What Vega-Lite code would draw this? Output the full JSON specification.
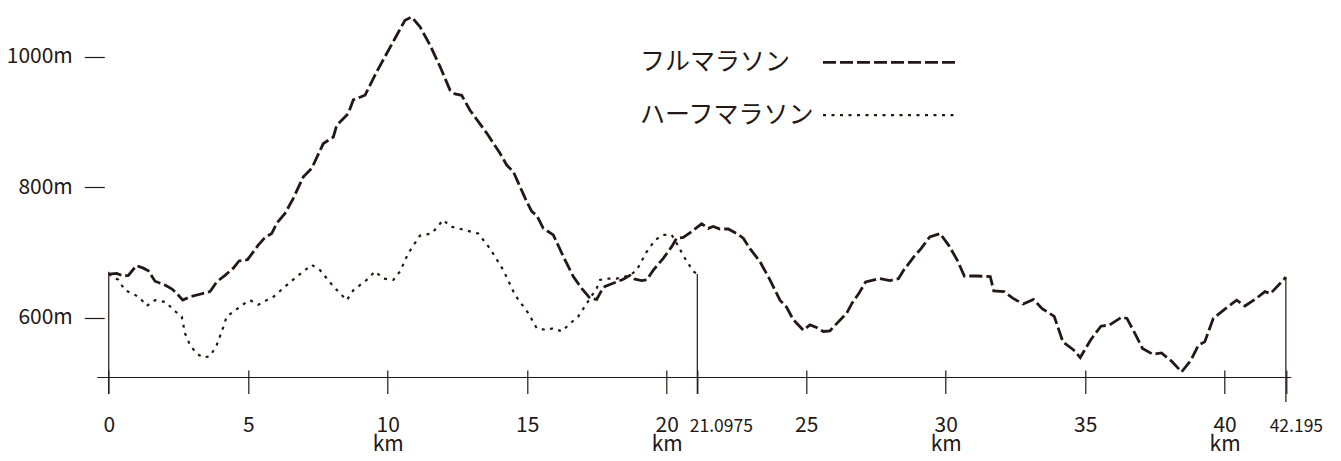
{
  "$schema": "https://vega.github.io/schema/vega-lite/v6.json",
  "autosize": "none",
  "width": 1194,
  "height": 377.5,
  "padding": {"left": 97.3, "top": 0, "right": 49.7, "bottom": 83.5},
  "background": "white",
  "config": {
    "view": {"stroke": null},
    "axis": {"grid": false, "title": null, "labelColor": "#231815", "tickColor": "#231815", "tickWidth": 1.2, "labelFont": "Noto Sans CJK JP"}
  },
  "datasets": {
    "profile": [
      {"course":"フルマラソン","km":0,"m":667},{"course":"フルマラソン","km":0.287,"m":668},{"course":"フルマラソン","km":0.523,"m":664},{"course":"フルマラソン","km":0.703,"m":665},{"course":"フルマラソン","km":0.993,"m":680},{"course":"フルマラソン","km":1.24,"m":676},{"course":"フルマラソン","km":1.419,"m":672},{"course":"フルマラソン","km":1.659,"m":656},{"course":"フルマラソン","km":2.018,"m":650},{"course":"フルマラソン","km":2.269,"m":644},{"course":"フルマラソン","km":2.448,"m":637},{"course":"フルマラソン","km":2.652,"m":627},{"course":"フルマラソン","km":2.914,"m":632},{"course":"フルマラソン","km":3.272,"m":636},{"course":"フルマラソン","km":3.631,"m":640},{"course":"フルマラソン","km":3.871,"m":655},{"course":"フルマラソン","km":4.168,"m":665},{"course":"フルマラソン","km":4.466,"m":676},{"course":"フルマラソン","km":4.67,"m":687},{"course":"フルマラソン","km":4.975,"m":689},{"course":"フルマラソン","km":5.183,"m":701},{"course":"フルマラソン","km":5.351,"m":711},{"course":"フルマラソン","km":5.602,"m":723},{"course":"フルマラソン","km":5.842,"m":729},{"course":"フルマラソン","km":6.022,"m":745},{"course":"フルマラソン","km":6.319,"m":760},{"course":"フルマラソン","km":6.616,"m":783},{"course":"フルマラソン","km":6.975,"m":816},{"course":"フルマラソン","km":7.276,"m":829},{"course":"フルマラソン","km":7.692,"m":867},{"course":"フルマラソン","km":8.05,"m":877},{"course":"フルマラソン","km":8.172,"m":895},{"course":"フルマラソン","km":8.588,"m":913},{"course":"フルマラソン","km":8.767,"m":934},{"course":"フルマラソン","km":9.186,"m":941},{"course":"フルマラソン","km":9.606,"m":977},{"course":"フルマラソン","km":9.964,"m":1005},{"course":"フルマラソン","km":10.323,"m":1033},{"course":"フルマラソン","km":10.62,"m":1056},{"course":"フルマラソン","km":10.86,"m":1061},{"course":"フルマラソン","km":11.158,"m":1046},{"course":"フルマラソン","km":11.516,"m":1018},{"course":"フルマラソン","km":11.875,"m":985},{"course":"フルマラソン","km":12.233,"m":949},{"course":"フルマラソン","km":12.412,"m":943},{"course":"フルマラソン","km":12.652,"m":941},{"course":"フルマラソン","km":12.95,"m":918},{"course":"フルマラソン","km":13.548,"m":883},{"course":"フルマラソン","km":14.025,"m":852},{"course":"フルマラソン","km":14.265,"m":834},{"course":"フルマラソン","km":14.502,"m":824},{"course":"フルマラソン","km":14.742,"m":801},{"course":"フルマラソン","km":14.982,"m":778},{"course":"フルマラソン","km":15.161,"m":763},{"course":"フルマラソン","km":15.341,"m":757},{"course":"フルマラソン","km":15.577,"m":737},{"course":"フルマラソン","km":15.935,"m":727},{"course":"フルマラソン","km":16.294,"m":694},{"course":"フルマラソン","km":16.652,"m":663},{"course":"フルマラソン","km":16.953,"m":645},{"course":"フルマラソン","km":17.251,"m":630},{"course":"フルマラソン","km":17.491,"m":628},{"course":"フルマラソン","km":17.67,"m":642},{"course":"フルマラソン","km":17.789,"m":648},{"course":"フルマラソン","km":18.208,"m":655},{"course":"フルマラソン","km":18.444,"m":659},{"course":"フルマラソン","km":18.685,"m":665},{"course":"フルマラソン","km":18.864,"m":659},{"course":"フルマラソン","km":19.104,"m":657},{"course":"フルマラソン","km":19.283,"m":658},{"course":"フルマラソン","km":19.52,"m":673},{"course":"フルマラソン","km":19.878,"m":691},{"course":"フルマラソン","km":20.179,"m":709},{"course":"フルマラソン","km":20.358,"m":722},{"course":"フルマラソン","km":20.595,"m":723},{"course":"フルマラソン","km":20.896,"m":732},{"course":"フルマラソン","km":21.254,"m":744},{"course":"フルマラソン","km":21.491,"m":737},{"course":"フルマラソン","km":21.67,"m":740},{"course":"フルマラソン","km":21.91,"m":736},{"course":"フルマラソン","km":22.208,"m":736},{"course":"フルマラソン","km":22.509,"m":729},{"course":"フルマラソン","km":22.746,"m":722},{"course":"フルマラソン","km":22.986,"m":706},{"course":"フルマラソン","km":23.344,"m":686},{"course":"フルマラソン","km":23.702,"m":658},{"course":"フルマラソン","km":24.061,"m":627},{"course":"フルマラソン","km":24.301,"m":616},{"course":"フルマラソン","km":24.538,"m":597},{"course":"フルマラソン","km":24.896,"m":581},{"course":"フルマラソン","km":25.136,"m":589},{"course":"フルマラソン","km":25.376,"m":585},{"course":"フルマラソン","km":25.613,"m":579},{"course":"フルマラソン","km":25.853,"m":580},{"course":"フルマラソン","km":26.093,"m":591},{"course":"フルマラソン","km":26.452,"m":607},{"course":"フルマラソン","km":26.638,"m":622},{"course":"フルマラソン","km":26.885,"m":637},{"course":"フルマラソン","km":27.133,"m":655},{"course":"フルマラソン","km":27.631,"m":660},{"course":"フルマラソン","km":28.004,"m":657},{"course":"フルマラソン","km":28.312,"m":660},{"course":"フルマラソン","km":28.498,"m":673},{"course":"フルマラソン","km":28.871,"m":694},{"course":"フルマラソン","km":29.118,"m":706},{"course":"フルマラソン","km":29.43,"m":724},{"course":"フルマラソン","km":29.799,"m":729},{"course":"フルマラソン","km":30.111,"m":711},{"course":"フルマラソン","km":30.419,"m":688},{"course":"フルマラソン","km":30.67,"m":664},{"course":"フルマラソン","km":31.104,"m":664},{"course":"フルマラソン","km":31.599,"m":663},{"course":"フルマラソン","km":31.724,"m":641},{"course":"フルマラソン","km":32.097,"m":640},{"course":"フルマラソン","km":32.405,"m":630},{"course":"フルマラソン","km":32.778,"m":621},{"course":"フルマラソン","km":33.151,"m":628},{"course":"フルマラソン","km":33.459,"m":614},{"course":"フルマラソン","km":33.892,"m":602},{"course":"フルマラソン","km":34.204,"m":563},{"course":"フルマラソン","km":34.577,"m":551},{"course":"フルマラソン","km":34.824,"m":539},{"course":"フルマラソン","km":35.197,"m":566},{"course":"フルマラソン","km":35.566,"m":587},{"course":"フルマラソン","km":35.878,"m":589},{"course":"フルマラソン","km":36.312,"m":601},{"course":"フルマラソン","km":36.498,"m":599},{"course":"フルマラソン","km":36.746,"m":579},{"course":"フルマラソン","km":37.057,"m":553},{"course":"フルマラソン","km":37.427,"m":544},{"course":"フルマラソン","km":37.738,"m":546},{"course":"フルマラソン","km":38.111,"m":533},{"course":"フルマラソン","km":38.459,"m":517},{"course":"フルマラソン","km":38.792,"m":535},{"course":"フルマラソン","km":39.061,"m":558},{"course":"フルマラソン","km":39.287,"m":563},{"course":"フルマラソン","km":39.595,"m":599},{"course":"フルマラソン","km":40.032,"m":614},{"course":"フルマラソン","km":40.43,"m":627},{"course":"フルマラソン","km":40.728,"m":618},{"course":"フルマラソン","km":41.147,"m":630},{"course":"フルマラソン","km":41.444,"m":640},{"course":"フルマラソン","km":41.645,"m":637},{"course":"フルマラソン","km":42.195,"m":662},
      {"course":"ハーフマラソン","km":0,"m":667},{"course":"ハーフマラソン","km":0.344,"m":658},{"course":"ハーフマラソン","km":0.584,"m":642},{"course":"ハーフマラソン","km":0.943,"m":635},{"course":"ハーフマラソン","km":1.122,"m":630},{"course":"ハーフマラソン","km":1.362,"m":618},{"course":"ハーフマラソン","km":1.659,"m":627},{"course":"ハーフマラソン","km":2.054,"m":624},{"course":"ハーフマラソン","km":2.315,"m":612},{"course":"ハーフマラソン","km":2.616,"m":602},{"course":"ハーフマラソン","km":2.735,"m":576},{"course":"ハーフマラソン","km":2.914,"m":558},{"course":"ハーフマラソン","km":3.154,"m":545},{"course":"ハーフマラソン","km":3.391,"m":539},{"course":"ハーフマラソン","km":3.631,"m":541},{"course":"ハーフマラソン","km":3.871,"m":558},{"course":"ハーフマラソン","km":4.108,"m":586},{"course":"ハーフマラソン","km":4.229,"m":602},{"course":"ハーフマラソン","km":4.466,"m":609},{"course":"ハーフマラソン","km":4.767,"m":619},{"course":"ハーフマラソン","km":5.065,"m":627},{"course":"ハーフマラソン","km":5.362,"m":620},{"course":"ハーフマラソン","km":5.663,"m":627},{"course":"ハーフマラソン","km":5.9,"m":632},{"course":"ハーフマラソン","km":6.38,"m":650},{"course":"ハーフマラソン","km":6.796,"m":665},{"course":"ハーフマラソン","km":7.276,"m":681},{"course":"ハーフマラソン","km":7.573,"m":673},{"course":"ハーフマラソン","km":8.05,"m":648},{"course":"ハーフマラソン","km":8.53,"m":627},{"course":"ハーフマラソン","km":8.767,"m":642},{"course":"ハーフマラソン","km":9.247,"m":658},{"course":"ハーフマラソン","km":9.545,"m":671},{"course":"ハーフマラソン","km":9.842,"m":660},{"course":"ハーフマラソン","km":10.201,"m":658},{"course":"ハーフマラソン","km":10.441,"m":671},{"course":"ハーフマラソン","km":10.738,"m":699},{"course":"ハーフマラソン","km":11.158,"m":726},{"course":"ハーフマラソン","km":11.577,"m":729},{"course":"ハーフマラソン","km":11.993,"m":750},{"course":"ハーフマラソン","km":12.233,"m":740},{"course":"ハーフマラソン","km":12.53,"m":737},{"course":"ハーフマラソン","km":13.247,"m":729},{"course":"ハーフマラソン","km":13.667,"m":706},{"course":"ハーフマラソン","km":14.143,"m":673},{"course":"ハーフマラソン","km":14.563,"m":635},{"course":"ハーフマラソン","km":15.039,"m":607},{"course":"ハーフマラソン","km":15.341,"m":584},{"course":"ハーフマラソン","km":15.699,"m":581},{"course":"ハーフマラソン","km":15.935,"m":584},{"course":"ハーフマラソン","km":16.237,"m":579},{"course":"ハーフマラソン","km":16.534,"m":591},{"course":"ハーフマラソン","km":16.832,"m":602},{"course":"ハーフマラソン","km":17.133,"m":622},{"course":"ハーフマラソン","km":17.491,"m":645},{"course":"ハーフマラソン","km":17.609,"m":658},{"course":"ハーフマラソン","km":17.849,"m":660},{"course":"ハーフマラソン","km":18.208,"m":660},{"course":"ハーフマラソン","km":18.685,"m":665},{"course":"ハーフマラソン","km":18.925,"m":673},{"course":"ハーフマラソン","km":19.283,"m":701},{"course":"ハーフマラソン","km":19.581,"m":719},{"course":"ハーフマラソン","km":19.878,"m":727},{"course":"ハーフマラソン","km":20.179,"m":727},{"course":"ハーフマラソン","km":20.358,"m":714},{"course":"ハーフマラソン","km":20.656,"m":691},{"course":"ハーフマラソン","km":20.953,"m":671},{"course":"ハーフマラソン","km":21.0975,"m":667}
    ],
    "markers": [
      {"km": 0, "top": 670.5, "bottom": 483},
      {"km": 21.0975, "top": 667, "bottom": 483},
      {"km": 42.195, "top": 663, "bottom": 471}
    ]
  },
  "layer": [
    {
      "data": {"name": "profile"},
      "mark": {"type": "line", "color": "#231815", "interpolate": "linear"},
      "encoding": {
        "x": {
          "field": "km", "type": "quantitative",
          "scale": {"domain": [-0.41, 42.39], "nice": false, "zero": false},
          "axis": {
            "values": [0, 5, 10, 15, 20, 21.0975, 25, 30, 35, 40, 42.195],
            "labelExpr": "(datum.value == 10 || datum.value == 20 || datum.value == 30 || datum.value == 40) ? [toString(datum.value), 'km'] : toString(datum.value)",
            "offset": -7.5,
            "domain": false,
            "tickSize": 23.5,
            "labelPadding": 38.2,
            "labelBaseline": "alphabetic",
            "labelLineHeight": 18.5,
            "labelFontSize": {"condition": {"test": "datum.value == 21.0975 || datum.value == 42.195", "value": 17.5}, "value": 21},
            "labelOffset": {"condition": [{"test": "datum.value == 21.0975", "value": 23.5}, {"test": "datum.value == 42.195", "value": 10}], "value": 0},
            "labelOverlap": false,
            "labelFlush": false,
            "labelBound": false
          }
        },
        "y": {
          "field": "m", "type": "quantitative",
          "scale": {"domain": [508.4, 1087], "nice": false, "zero": false},
          "axis": {
            "values": [600, 800, 1000],
            "labelExpr": "datum.value + 'm'",
            "offset": -7,
            "domain": false,
            "tickSize": 20,
            "labelPadding": 12,
            "labelFontSize": 21
          }
        },
        "strokeDash": {
          "field": "course", "type": "nominal",
          "scale": {"domain": ["フルマラソン", "ハーフマラソン"], "range": [[13, 4], [3, 5.5]]},
          "legend": {
            "orient": "none", "legendX": 725.7, "legendY": 44.3, "title": null,
            "symbolType": "M-4,0L4,0", "symbolSize": 1089, "symbolStrokeWidth": 3,
            "symbolOffset": 48,
            "symbolStrokeColor": "#231815", "symbolFillColor": "transparent",
            "labelOffset": -267, "labelAlign": "left",
            "labelFont": "Noto Sans CJK JP", "labelFontSize": 25, "labelColor": "#231815",
            "labelLimit": 0, "rowPadding": 21.8, "padding": 0
          }
        },
        "strokeWidth": {
          "field": "course", "type": "nominal",
          "scale": {"domain": ["フルマラソン", "ハーフマラソン"], "range": [2.8, 2.2]},
          "legend": null
        }
      }
    },
    {
      "data": {"name": "markers"},
      "mark": {"type": "rule", "color": "#231815", "strokeWidth": 1.2},
      "encoding": {
        "x": {"field": "km", "type": "quantitative"},
        "y": {"field": "top", "type": "quantitative"},
        "y2": {"field": "bottom"}
      }
    },
    {
      "data": {"values": [{}]},
      "mark": {"type": "rule", "color": "#231815", "strokeWidth": 1.2},
      "encoding": {
        "y": {"datum": 508.4, "type": "quantitative"}
      }
    }
  ]
}
